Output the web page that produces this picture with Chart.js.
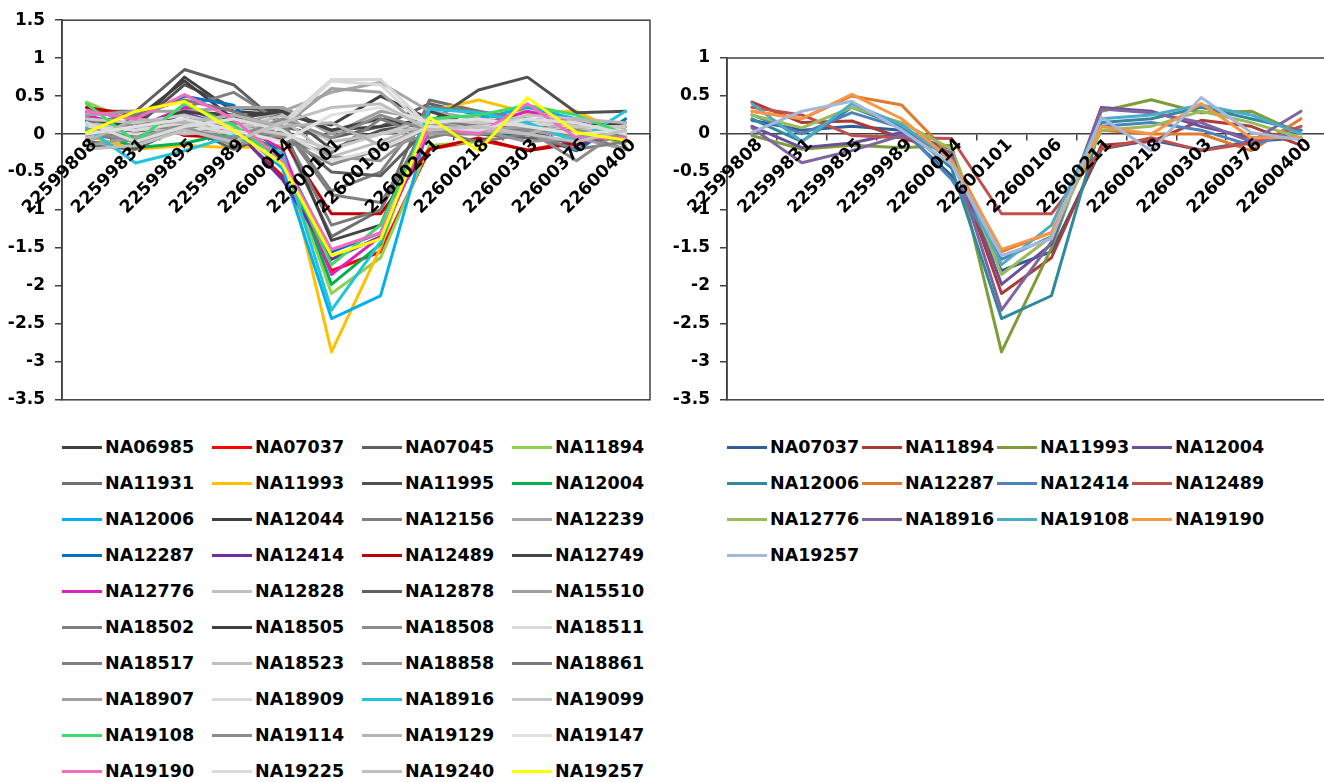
<!DOCTYPE html>
<html>
<head>
<meta charset="utf-8">
<script src="https://cdn.jsdelivr.net/npm/chart.js@4"></script>
<style>
  html, body { margin: 0; padding: 0; background: #fff; overflow: hidden; }
  body { width: 1324px; height: 782px; position: relative; font-family: "DejaVu Sans", sans-serif; }
  canvas { position: absolute; top: 0; }
  #left_chart { left: 0; }
  #right_chart { left: 662px; }
  .legend { position: absolute; top: 429px; display: grid; grid-auto-rows: 36px; }
  #left_legend { left: 62px; grid-template-columns: repeat(4, 150px); }
  #right_legend { left: 727px; grid-template-columns: repeat(4, 135px); }
  .legend_item { display: flex; align-items: center; font-weight: bold; font-size: 17.5px; color: #000; white-space: nowrap; }
  .legend_line { display: inline-block; width: 40px; height: 3px; margin-right: 3px; }
</style>
</head>
<body>
<canvas id="left_chart" width="652" height="420"></canvas>
<canvas id="right_chart" width="664" height="420"></canvas>
<div id="left_legend" class="legend"></div>
<div id="right_legend" class="legend"></div>
<script>
// probe positions on the x axis
const categories = ["22599808", "22599831", "22599895", "22599989", "22600014", "22600101",
  "22600106", "22600211", "22600218", "22600303", "22600376", "22600400"];

// samples shown in colour in both charts
const NA07037 = [0.18, 0.05, 0.1, 0.05, -0.55, -1.8, -1.55, -0.2, -0.08, -0.21, -0.1, -0.05];
const NA11894 = [0.42, 0.15, 0.17, -0.05, -0.25, -2.1, -1.63, -0.15, -0.1, 0.18, 0.1, -0.15];
const NA11993 = [-0.02, -0.2, -0.15, -0.18, -0.15, -2.87, -1.5, 0.3, 0.45, 0.28, 0.3, 0.0];
const NA12004 = [0.1, -0.18, -0.12, 0.02, -0.2, -1.98, -1.45, 0.35, 0.3, 0.1, -0.05, -0.05];
const NA12006 = [0.2, -0.1, 0.35, 0.1, -0.45, -2.43, -2.13, 0.15, 0.2, 0.35, 0.2, 0.05];
const NA12287 = [0.3, 0.2, 0.5, 0.38, -0.3, -1.55, -1.3, 0.05, 0.0, 0.0, -0.22, 0.2];
const NA12414 = [0.25, 0.0, 0.28, 0.08, -0.6, -1.65, -1.35, 0.1, 0.15, 0.05, -0.15, 0.05];
const NA12489 = [0.35, 0.25, -0.02, -0.05, -0.06, -1.05, -1.05, -0.2, -0.05, -0.22, -0.12, 0.1];
const NA12776 = [0.25, 0.08, 0.35, 0.15, -0.2, -1.85, -1.35, 0.05, 0.1, 0.3, 0.15, -0.05];
const NA18916 = [0.08, -0.38, -0.22, -0.02, -0.25, -2.32, -1.42, 0.33, 0.28, 0.15, -0.1, 0.3];
const NA19108 = [0.4, -0.1, 0.4, 0.12, -0.35, -1.72, -1.2, 0.2, 0.25, 0.38, 0.25, 0.0];
const NA19190 = [0.3, 0.2, 0.52, 0.2, -0.35, -1.52, -1.3, 0.1, 0.0, 0.4, -0.05, -0.05];
const NA19257 = [0.02, 0.3, 0.43, 0.05, -0.4, -1.6, -1.38, 0.22, -0.22, 0.48, 0.02, -0.08];

// samples shown in grey in the left chart only
const NA06985 = [0.05, 0.1, 0.75, 0.3, 0.25, 0.12, 0.5, 0.2, 0.1, 0.15, 0.05, 0.0];
const NA07045 = [0.3, 0.3, 0.85, 0.65, 0.1, -0.05, 0.1, 0.4, 0.25, 0.2, 0.15, 0.1];
const NA11931 = [-0.1, -0.15, 0.2, 0.05, 0.0, -1.35, -1.0, 0.45, 0.3, 0.1, 0.0, -0.2];
const NA11995 = [0.15, 0.1, 0.65, 0.35, 0.3, -0.2, 0.05, 0.15, 0.58, 0.75, 0.28, 0.3];
const NA12044 = [0.0, 0.2, 0.7, 0.2, 0.35, 0.05, 0.1, 0.2, 0.05, 0.1, 0.15, 0.0];
const NA12156 = [0.2, 0.05, 0.35, 0.55, 0.15, -0.75, -0.5, 0.35, 0.3, 0.2, 0.1, 0.05];
const NA12239 = [0.1, 0.0, 0.2, 0.1, 0.3, 0.55, 0.68, 0.3, 0.2, 0.15, 0.05, 0.1];
const NA12749 = [-0.05, 0.0, 0.3, 0.25, 0.1, -1.4, -1.2, 0.3, 0.1, 0.0, 0.05, -0.1];
const NA12828 = [0.15, 0.05, 0.1, 0.0, 0.2, -0.3, -0.1, 0.15, 0.1, 0.25, 0.2, 0.05];
const NA12878 = [-0.15, -0.2, 0.1, -0.2, 0.05, -0.5, -0.55, 0.1, 0.0, -0.05, -0.1, 0.05];
const NA15510 = [0.25, 0.3, 0.3, 0.35, 0.35, 0.0, 0.3, 0.2, 0.15, 0.05, -0.05, -0.2];
const NA18502 = [0.0, -0.1, 0.15, -0.1, 0.1, -0.8, -0.9, 0.05, -0.1, 0.0, -0.2, -0.1];
const NA18505 = [0.2, 0.1, 0.3, 0.2, 0.3, 0.05, 0.2, 0.1, 0.05, 0.15, 0.1, 0.15];
const NA18508 = [-0.1, 0.15, 0.05, 0.15, -0.05, -0.4, -0.2, 0.0, 0.0, 0.05, -0.35, 0.1];
const NA18511 = [0.05, 0.0, 0.05, 0.1, 0.15, 0.72, 0.72, 0.1, 0.15, 0.1, 0.05, 0.0];
const NA18517 = [0.1, -0.05, 0.2, 0.1, -0.1, -0.25, 0.2, -0.05, 0.1, 0.2, 0.1, 0.05];
const NA18523 = [-0.05, 0.1, 0.0, 0.05, 0.25, -0.1, 0.0, 0.1, 0.2, 0.1, 0.15, 0.0];
const NA18858 = [0.3, 0.2, 0.1, -0.15, 0.0, -0.3, -0.35, 0.15, 0.05, -0.1, -0.05, 0.1];
const NA18861 = [0.15, 0.25, 0.45, 0.3, 0.05, -1.2, -1.0, 0.2, 0.1, 0.05, 0.15, -0.05];
const NA18907 = [-0.15, -0.05, 0.1, 0.2, 0.1, 0.6, 0.55, 0.0, 0.05, 0.1, 0.0, 0.05];
const NA18909 = [0.1, 0.05, 0.15, 0.0, 0.1, 0.7, 0.65, 0.05, 0.1, 0.15, 0.1, 0.05];
const NA19099 = [0.2, 0.15, 0.25, 0.1, 0.0, -0.2, 0.0, 0.2, 0.15, 0.2, 0.1, 0.1];
const NA19114 = [0.05, -0.1, 0.05, -0.05, 0.2, -0.05, 0.25, 0.05, 0.0, 0.05, 0.05, -0.05];
const NA19129 = [-0.1, 0.2, 0.15, 0.25, 0.1, 0.15, -0.15, 0.1, 0.05, 0.0, 0.2, 0.15];
const NA19147 = [0.0, 0.1, 0.2, 0.05, -0.1, 0.25, 0.35, 0.15, 0.2, 0.1, 0.0, 0.05];
const NA19225 = [0.15, -0.1, 0.1, 0.2, 0.05, -0.35, -0.2, 0.1, 0.05, 0.2, 0.15, 0.0];
const NA19240 = [-0.2, -0.15, 0.05, -0.1, 0.15, 0.35, 0.4, 0.05, 0.1, 0.0, -0.1, 0.05];

const leftNames = ["NA06985", "NA07037", "NA07045", "NA11894", "NA11931", "NA11993", "NA11995", "NA12004",
  "NA12006", "NA12044", "NA12156", "NA12239", "NA12287", "NA12414", "NA12489", "NA12749",
  "NA12776", "NA12828", "NA12878", "NA15510", "NA18502", "NA18505", "NA18508", "NA18511",
  "NA18517", "NA18523", "NA18858", "NA18861", "NA18907", "NA18909", "NA18916", "NA19099",
  "NA19108", "NA19114", "NA19129", "NA19147", "NA19190", "NA19225", "NA19240", "NA19257"];
const leftValues = [NA06985, NA07037, NA07045, NA11894, NA11931, NA11993, NA11995, NA12004,
  NA12006, NA12044, NA12156, NA12239, NA12287, NA12414, NA12489, NA12749,
  NA12776, NA12828, NA12878, NA15510, NA18502, NA18505, NA18508, NA18511,
  NA18517, NA18523, NA18858, NA18861, NA18907, NA18909, NA18916, NA19099,
  NA19108, NA19114, NA19129, NA19147, NA19190, NA19225, NA19240, NA19257];
const leftColors = ["#404040", "#ff0000", "#606060", "#92d050", "#707070", "#ffc000", "#505050", "#00b050",
  "#00b0f0", "#404040", "#7f7f7f", "#a6a6a6", "#0070c0", "#7030a0", "#c00000", "#454545",
  "#dd22bb", "#c0c0c0", "#606060", "#a0a0a0", "#7f7f7f", "#404040", "#8c8c8c", "#d9d9d9",
  "#808080", "#bfbfbf", "#969696", "#7a7a7a", "#a0a0a0", "#d9d9d9", "#20c4dc", "#c8c8c8",
  "#3cd96b", "#8c8c8c", "#b4b4b4", "#e0e0e0", "#f36bc4", "#dcdcdc", "#c0c0c0", "#ffff00"];

const rightNames = ["NA07037", "NA11894", "NA11993", "NA12004", "NA12006", "NA12287", "NA12414",
  "NA12489", "NA12776", "NA18916", "NA19108", "NA19190", "NA19257"];
const rightValues = [NA07037, NA11894, NA11993, NA12004, NA12006, NA12287, NA12414,
  NA12489, NA12776, NA18916, NA19108, NA19190, NA19257];
const rightColors = ["#2f5f98", "#a93b39", "#7f9c3a", "#6b4f98", "#2f8aa0", "#e07b2e", "#4f81bd",
  "#c0504d", "#9bbb59", "#8064a2", "#4bacc6", "#f79646", "#a5b8db"];

const axisColor = "#404040";
const tickFont = { family: "DejaVu Sans", size: 17, weight: "bold" };

// draws the box round the plot area, like the Excel original
const framePlugin = {
  id: "frame",
  beforeDatasetsDraw(chart) {
    const { ctx, chartArea } = chart;
    ctx.save();
    ctx.strokeStyle = axisColor;
    ctx.lineWidth = 1.5;
    ctx.strokeRect(chartArea.left, chartArea.top, chartArea.right - chartArea.left, chartArea.bottom - chartArea.top);
    ctx.restore();
  },
};

// category labels hang from the zero line at 45 degrees
const xLabelPlugin = {
  id: "xLabels",
  afterDraw(chart) {
    const { ctx } = chart;
    const xScale = chart.scales.x;
    const zero = chart.scales.y.getPixelForValue(0);
    ctx.save();
    ctx.font = "bold 17.5px 'DejaVu Sans'";
    ctx.fillStyle = "#000";
    ctx.textAlign = "right";
    ctx.textBaseline = "middle";
    xScale.ticks.forEach((tick, i) => {
      ctx.save();
      ctx.translate(xScale.getPixelForTick(i) + 8, zero + 8);
      ctx.rotate(-Math.PI / 4);
      ctx.fillText(xScale.getLabelForValue(tick.value), 0, 0);
      ctx.restore();
    });
    ctx.restore();
  },
};

const createChart = (canvasId, names, values, colors, yMax, padding, yWidth) => {
  new Chart(document.getElementById(canvasId), {
    type: "line",
    data: {
      labels: categories,
      datasets: names.map((name, i) => ({
        label: name,
        data: values[i],
        borderColor: colors[i],
        backgroundColor: colors[i],
        borderWidth: 3,
        pointRadius: 0,
        tension: 0,
        fill: false,
        borderJoinStyle: "round",
        borderCapStyle: "round",
        // later series on top, as in Excel
        order: -i,
      })),
    },
    options: {
      responsive: false,
      animation: false,
      layout: { padding: padding },
      plugins: { legend: { display: false }, tooltip: { enabled: false } },
      scales: {
        x: {
          type: "category",
          offset: true,
          position: { y: 0 },
          grid: { display: true, drawOnChartArea: false, offset: true, tickLength: 6, color: axisColor, lineWidth: 1.5 },
          border: { display: true, color: axisColor, width: 1.5 },
          ticks: { display: false, autoSkip: false },
          afterFit: (scale) => {
            // the axis sits on y = 0, so it takes no room below the plot
            scale.height = 0;
            scale.paddingLeft = 0;
            scale.paddingRight = 0;
          },
        },
        y: {
          min: -3.5,
          max: yMax,
          grid: { display: true, drawOnChartArea: false, tickLength: 7, color: axisColor, lineWidth: 1.5 },
          border: { display: true, color: axisColor, width: 1.5 },
          ticks: {
            stepSize: 0.5,
            padding: 10,
            color: "#000",
            font: tickFont,
            callback: (value) => String(Number(value.toFixed(2))),
          },
          afterFit: (scale) => {
            scale.width = yWidth;
          },
        },
      },
    },
    plugins: [framePlugin, xLabelPlugin],
  });
};

const createLegend = (legendId, names, colors) => {
  const legend = document.getElementById(legendId);
  names.forEach((name, i) => {
    const item = document.createElement("div");
    item.className = "legend_item";
    const line = document.createElement("span");
    line.className = "legend_line";
    line.style.background = colors[i];
    item.appendChild(line);
    item.appendChild(document.createTextNode(name));
    legend.appendChild(item);
  });
};

createChart("left_chart", leftNames, leftValues, leftColors, 1.5, { top: 17, bottom: 14, left: 0, right: 2 }, 62);
createChart("right_chart", rightNames, rightValues, rightColors, 1, { top: 58, bottom: 11, left: 0, right: 0 }, 65);
createLegend("left_legend", leftNames, leftColors);
createLegend("right_legend", rightNames, rightColors);
</script>
</body>
</html>
